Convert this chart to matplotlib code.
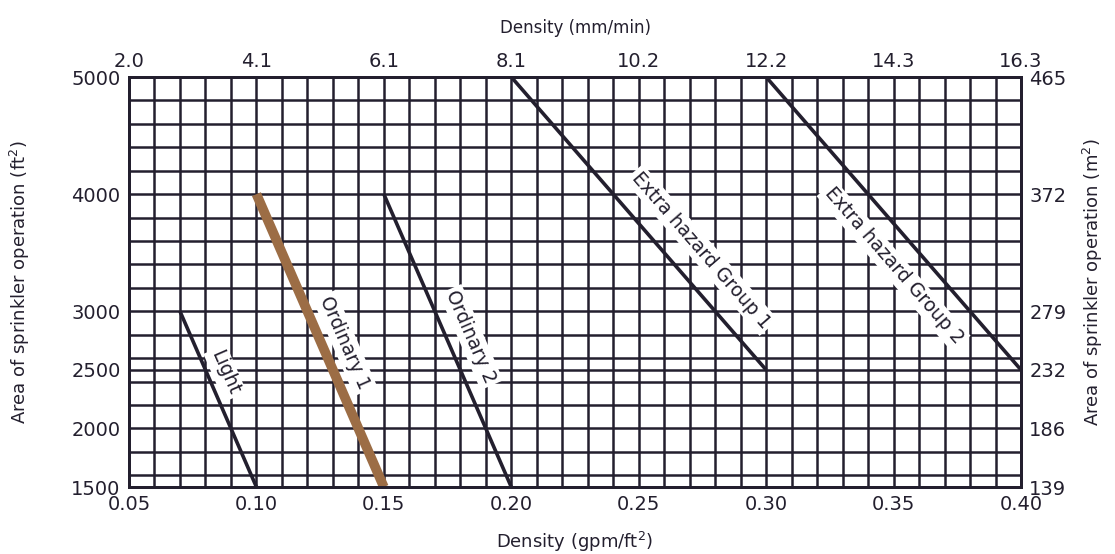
import numpy as np
import matplotlib
matplotlib.use("Agg")
import matplotlib.pyplot as plt

# design curves (gpm/ft2 vs ft2)
hazards = ["Light", "Ordinary 1", "Ordinary 2", "Extra hazard Group 1", "Extra hazard Group 2"]
dens_start = [0.07, 0.10, 0.15, 0.20, 0.30]
area_start = [3000, 4000, 4000, 5000, 5000]
dens_end = [0.10, 0.15, 0.20, 0.30, 0.40]
area_end = [1500, 1500, 1500, 2500, 2500]

x_ticks = [0.05, 0.10, 0.15, 0.20, 0.25, 0.30, 0.35, 0.40]
x_top_labels = ["2.0", "4.1", "6.1", "8.1", "10.2", "12.2", "14.3", "16.3"]
y_ticks = [1500, 2000, 2500, 3000, 4000, 5000]
y_right_labels = ["139", "186", "232", "279", "372", "465"]

plt.rcParams['font.family'] = ['DejaVu Sans']
ink = "#231f2e"

fig = plt.figure(figsize=(11.15, 5.54), dpi=100)
ax = fig.add_axes([0.1157, 0.1209, 0.8, 0.7401])
ax.set_xlim(0.05, 0.40)
ax.set_ylim(1500, 5000)

# grid
for gx in np.arange(0.06, 0.40, 0.01):
    ax.axvline(gx, color=ink, lw=1.8, zorder=1)
for gy in list(range(1600, 5000, 200)) + [2500]:
    ax.axhline(gy, color=ink, lw=1.8, zorder=1)
for s in ax.spines.values():
    s.set_color(ink)
    s.set_linewidth(2)

ax.set_xticks(x_ticks)
ax.set_xticklabels(["%.2f" % v for v in x_ticks])
ax.set_yticks(y_ticks)
ax.set_yticklabels([str(v) for v in y_ticks])
ax.tick_params(length=0, labelsize=14, colors=ink, pad=6)
ax.set_xlabel("Density (gpm/ft$^2$)", fontsize=13, color=ink, labelpad=11)
ax.set_ylabel("Area of sprinkler operation (ft$^2$)", fontsize=13, color=ink, labelpad=28)

# lines
for i, name in enumerate(hazards):
    if name == "Ordinary 1":
        ax.plot([dens_start[i], dens_end[i]], [area_start[i], area_end[i]],
                color="#9c6d45", lw=7, solid_capstyle="butt", zorder=3)
    else:
        ax.plot([dens_start[i], dens_end[i]], [area_start[i], area_end[i]],
                color=ink, lw=2.6, solid_capstyle="butt", zorder=3)

# labels along the lines
lab_x = [0.0877, 0.1347, 0.1842, 0.2745, 0.3500]
lab_y = [2473, 2729, 2780, 3523, 3387]
for i, name in enumerate(hazards):
    p0 = ax.transData.transform((dens_start[i], area_start[i]))
    p1 = ax.transData.transform((dens_end[i], area_end[i]))
    ang = np.degrees(np.arctan2(p1[1] - p0[1], p1[0] - p0[0]))
    ax.text(lab_x[i], lab_y[i], name, rotation=ang, rotation_mode="anchor",
            ha="center", va="center", fontsize=13.5, color=ink, zorder=4,
            bbox=dict(facecolor="white", edgecolor="none", pad=2))

# top axis: mm/min
axt = ax.twiny()
axt.set_xlim(ax.get_xlim())
axt.set_xticks(x_ticks)
axt.set_xticklabels(x_top_labels)
axt.tick_params(length=0, labelsize=14, colors=ink, pad=4)
axt.set_xlabel("Density (mm/min)", fontsize=12, color=ink, labelpad=14)

# right axis: m2
axr = ax.twinx()
axr.set_ylim(ax.get_ylim())
axr.set_yticks(y_ticks)
axr.set_yticklabels(y_right_labels)
axr.tick_params(length=0, labelsize=14, colors=ink, pad=6)
axr.set_ylabel("Area of sprinkler operation (m$^2$)", fontsize=13, color=ink, labelpad=10)
for a in (axt, axr):
    for s in a.spines.values():
        s.set_color(ink)
        s.set_linewidth(2)

fig.savefig("out.png", dpi=100)
